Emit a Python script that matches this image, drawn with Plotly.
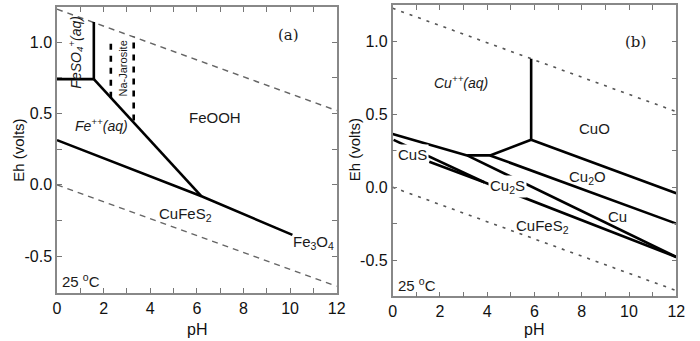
import plotly.graph_objects as go

# ---------------- data ----------------
ph_water = [0, 12]
eh_o2_line = [1.23, 0.52]
eh_h2_line = [0.0, -0.71]

# panel (a) boundaries
a_feso4_h_ph = [0, 1.58]
a_feso4_h_eh = [0.74, 0.74]
a_feso4_v_ph = [1.58, 1.58]
a_feso4_v_eh = [0.74, 1.14]
a_fe_feooh_ph = [1.58, 6.2]
a_fe_feooh_eh = [0.74, -0.08]
a_cufes2_ph = [0, 6.2, 10.1]
a_cufes2_eh = [0.313, -0.08, -0.35]
a_jaro1_ph = [2.31, 2.31]
a_jaro1_eh = [0.61, 1.01]
a_jaro2_ph = [3.29, 3.29]
a_jaro2_eh = [0.45, 1.04]

# panel (b) boundaries
b_vert_ph = [5.86, 5.86]
b_vert_eh = [0.883, 0.326]
b_cuo_ph = [5.86, 12]
b_cuo_eh = [0.326, -0.041]
b_diag_ph = [5.86, 4.12]
b_diag_eh = [0.326, 0.219]
b_horiz_ph = [3.15, 4.12]
b_horiz_eh = [0.219, 0.219]
b_cu2o_ph = [4.12, 12]
b_cu2o_eh = [0.219, -0.25]
b_upper_ph = [0, 3.15]
b_upper_eh = [0.366, 0.219]
b_cu2s_ph = [3.15, 12]
b_cu2s_eh = [0.219, -0.479]
b_cus1_ph = [0.04, 3.9]
b_cus1_eh = [0.326, 0.033]
b_cus2_ph = [1.55, 3.9]
b_cus2_eh = [0.175, 0.033]
b_cufes2_ph = [3.9, 12]
b_cufes2_eh = [0.033, -0.479]

x_ticks = [0, 2, 4, 6, 8, 10, 12]
y_ticks = [-0.5, 0.0, 0.5, 1.0]
y_tick_text = ["-0.5", "0.0", "0.5", "1.0"]

fig = go.Figure()

def line(x, y, ax, width=2.6, color="black", dash="solid"):
    xa, ya = ("x", "y") if ax == 1 else ("x2", "y2")
    fig.add_trace(go.Scatter(x=x, y=y, mode="lines", xaxis=xa, yaxis=ya,
                             line=dict(color=color, width=width, dash=dash),
                             hoverinfo="skip", showlegend=False))

# water lines
line(ph_water, eh_o2_line, 1, 1.5, "#666", "6px,5px")
line(ph_water, eh_h2_line, 1, 1.5, "#666", "6px,5px")
line(ph_water, eh_o2_line, 2, 1.6, "#555", "3px,6px")
line(ph_water, eh_h2_line, 2, 1.6, "#555", "3px,6px")

# panel a
line(a_feso4_h_ph, a_feso4_h_eh, 1)
line(a_feso4_v_ph, a_feso4_v_eh, 1)
line(a_fe_feooh_ph, a_fe_feooh_eh, 1)
line(a_cufes2_ph, a_cufes2_eh, 1)
line(a_jaro1_ph, a_jaro1_eh, 1, 2.6, "black", "6px,6px")
line(a_jaro2_ph, a_jaro2_eh, 1, 2.6, "black", "6px,6px")

# panel b
line(b_vert_ph, b_vert_eh, 2)
line(b_cuo_ph, b_cuo_eh, 2)
line(b_diag_ph, b_diag_eh, 2)
line(b_horiz_ph, b_horiz_eh, 2)
line(b_cu2o_ph, b_cu2o_eh, 2)
line(b_upper_ph, b_upper_eh, 2)
line(b_cu2s_ph, b_cu2s_eh, 2)
line(b_cus1_ph, b_cus1_eh, 2)
line(b_cus2_ph, b_cus2_eh, 2)
line(b_cufes2_ph, b_cufes2_eh, 2)

FONT = "Liberation Sans, Arial, sans-serif"
axis_common = dict(
    showline=True, linecolor="#888", linewidth=1.5, mirror="ticks",
    ticks="inside", ticklen=5, tickwidth=1.2, tickcolor="#777",
    showgrid=False, zeroline=False,
    tickfont=dict(family=FONT, size=16, color="#111"),
)
xcommon = dict(axis_common, range=[0, 12], tickvals=x_ticks,
               minor=dict(dtick=1, ticks="inside", ticklen=5, tickcolor="#777", showgrid=False))
ycommon = dict(axis_common, tickvals=y_ticks, ticktext=y_tick_text,
               minor=dict(tickvals=[-0.75, -0.25, 0.25, 0.75], ticks="inside", ticklen=5,
                          tickcolor="#777", showgrid=False))

fig.update_layout(
    width=700, height=341, margin=dict(l=0, r=0, t=0, b=0),
    paper_bgcolor="white", plot_bgcolor="white",
    xaxis=dict(xcommon, domain=[54 / 700, 339 / 700], anchor="y"),
    yaxis=dict(ycommon, range=[-0.757, 1.245], domain=[1 - 293 / 341, 1 - 7 / 341], anchor="x"),
    xaxis2=dict(xcommon, domain=[396 / 700, 685 / 700], anchor="y2"),
    yaxis2=dict(ycommon, range=[-0.75, 1.25], domain=[1 - 296.4 / 341, 1 - 5.4 / 341], anchor="x2"),
)

def ann(text, x, y, ax, size=15, angle=0, bg=None, family=FONT):
    xa, ya = ("x", "y") if ax == 1 else ("x2", "y2")
    kw = dict(text=text, x=x, y=y, xref=xa, yref=ya, showarrow=False,
              xanchor="center", yanchor="middle",
              textangle=angle, font=dict(family=family, size=size, color="#1a1a1a"))
    if bg:
        kw.update(bgcolor=bg, borderpad=1)
    fig.add_annotation(**kw)

# panel a labels
ann("<i>FeSO<sub>4</sub><sup>+</sup>(aq)</i>", 0.8, 0.93, 1, 14, -90)
ann("Na-Jarosite", 2.84, 0.816, 1, 11, -90)
ann("<i>Fe<sup>++</sup>(aq)</i>", 1.91, 0.42, 1, 14)
ann("FeOOH", 6.78, 0.47, 1)
ann("CuFeS<sub>2</sub>", 5.52, -0.21, 1)
ann("Fe<sub>3</sub>O<sub>4</sub>", 10.99, -0.40, 1)
ann("25 <sup>o</sup>C", 1.05, -0.666, 1)
ann("(a)", 9.94, 1.05, 1, 15, family="DejaVu Serif, serif")

# panel b labels
ann("<i>Cu<sup>++</sup>(aq)</i>", 2.9, 0.726, 2, 14)
ann("CuO", 8.55, 0.407, 2)
ann("CuS", 0.84, 0.223, 2, bg="white")
ann("Cu<sub>2</sub>S", 4.85, 0.004, 2, bg="white")
ann("Cu<sub>2</sub>O", 8.23, 0.069, 2)
ann("Cu", 9.51, -0.203, 2)
ann("CuFeS<sub>2</sub>", 6.32, -0.267, 2)
ann("25 <sup>o</sup>C", 1.05, -0.67, 2)
ann("(b)", 10.26, 1.0, 2, 15, family="DejaVu Serif, serif")

# axis titles
for xc in [(54 + 339) / 2 / 700, (396 + 685) / 2 / 700]:
    fig.add_annotation(text="pH", x=xc, y=1 - 329 / 341, xref="paper", yref="paper",
                       xanchor="center", yanchor="middle",
                       showarrow=False, font=dict(family=FONT, size=16, color="#111"))
for xc in [14 / 700, 357 / 700]:
    fig.add_annotation(text="Eh (volts)", x=xc, y=1 - 150 / 341, xref="paper", yref="paper",
                       xanchor="center", yanchor="middle",
                       showarrow=False, textangle=-90, font=dict(family=FONT, size=15, color="#111"))

fig.write_html("out.html")
